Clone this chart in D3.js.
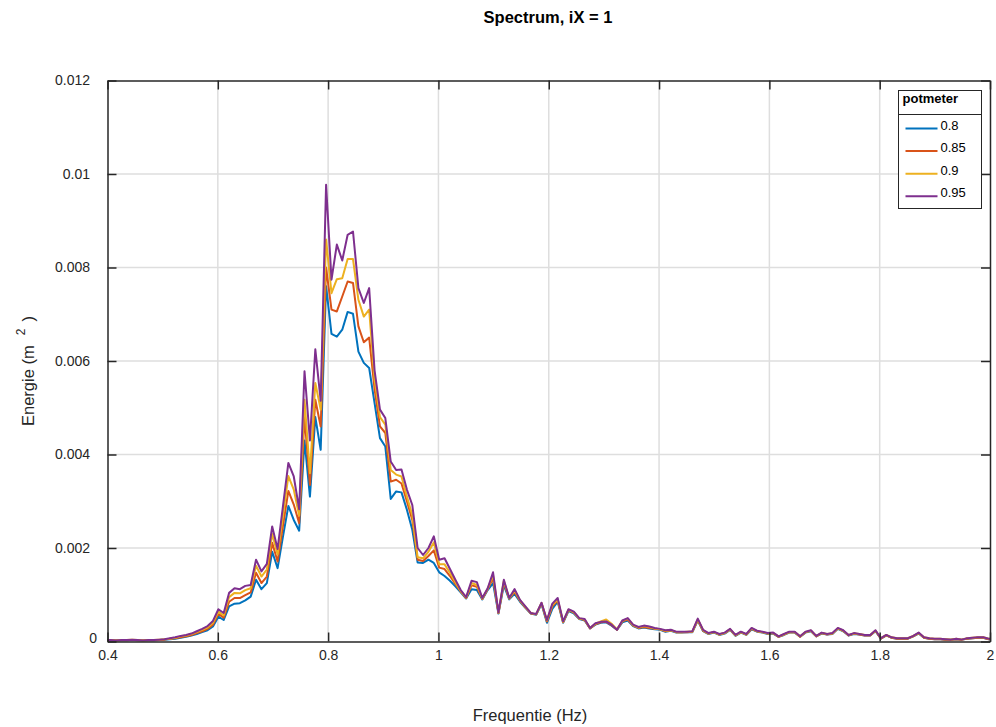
<!DOCTYPE html>
<html>
<head>
<meta charset="utf-8">
<script src="https://cdn.jsdelivr.net/npm/d3@7"></script>
<style>
    body { margin: 0; background: #ffffff; }
    svg { font-family: "Liberation Sans", Arial, Helvetica, sans-serif; }
</style>
</head>
<body>
<div id="spectrum-div"></div>
<script>
// frequency bins (Hz)
const freq = [
    0.3959, 0.4057, 0.4154, 0.4252, 0.4350, 0.4447, 0.4545, 0.4643, 0.4740, 0.4838,
    0.4935, 0.5033, 0.5131, 0.5228, 0.5326, 0.5424, 0.5521, 0.5619, 0.5717, 0.5814,
    0.5912, 0.6010, 0.6107, 0.6205, 0.6303, 0.6400, 0.6498, 0.6596, 0.6693, 0.6791,
    0.6889, 0.6986, 0.7084, 0.7182, 0.7279, 0.7377, 0.7475, 0.7572, 0.7670, 0.7768,
    0.7865, 0.7963, 0.8061, 0.8158, 0.8256, 0.8354, 0.8451, 0.8549, 0.8647, 0.8744,
    0.8842, 0.8940, 0.9037, 0.9135, 0.9233, 0.9330, 0.9428, 0.9526, 0.9623, 0.9721,
    0.9819, 0.9916, 1.0014, 1.0111, 1.0209, 1.0307, 1.0404, 1.0502, 1.0600, 1.0697,
    1.0795, 1.0893, 1.0990, 1.1088, 1.1186, 1.1283, 1.1381, 1.1479, 1.1576, 1.1674,
    1.1772, 1.1869, 1.1967, 1.2065, 1.2162, 1.2260, 1.2358, 1.2455, 1.2553, 1.2651,
    1.2748, 1.2846, 1.2944, 1.3041, 1.3139, 1.3237, 1.3334, 1.3432, 1.3530, 1.3627,
    1.3725, 1.3823, 1.3920, 1.4018, 1.4116, 1.4213, 1.4311, 1.4409, 1.4506, 1.4604,
    1.4702, 1.4799, 1.4897, 1.4995, 1.5092, 1.5190, 1.5288, 1.5385, 1.5483, 1.5581,
    1.5678, 1.5776, 1.5874, 1.5971, 1.6069, 1.6167, 1.6264, 1.6362, 1.6460, 1.6557,
    1.6655, 1.6753, 1.6850, 1.6948, 1.7046, 1.7143, 1.7241, 1.7339, 1.7436, 1.7534,
    1.7631, 1.7729, 1.7827, 1.7924, 1.8022, 1.8120, 1.8217, 1.8315, 1.8413, 1.8510,
    1.8608, 1.8706, 1.8803, 1.8901, 1.8999, 1.9096, 1.9194, 1.9292, 1.9389, 1.9487,
    1.9585, 1.9682, 1.9780, 1.9878, 1.9975, 2.0073
];

// energie (m^2) per potmeter setting
const energie080 = [
    .00002, .00002, .00002, .00002, .00002, .00003, .00002, .00002, .00002, .00002,
    .00003, .00004, .00005, .00006, .00008, .0001, .00013, .00016, .0002, .00024,
    .00032, .00053, .00046, .00075, .00081, .00082, .00088, .00096, .00132, .00112,
    .00125, .00192, .00157, .00225, .0029, .0026, .00237, .0043, .0031, .0048,
    .0041, .0076, .00658, .00652, .00667, .00705, .00701, .0062, .00596, .00585,
    .0051, .00435, .00417, .00305, .00321, .00319, .00282, .00239, .00169, .00168,
    .00175, .00168, .00148, .0014, .0013, .00118, .00105, .00092, .00112, .0011,
    .0009, .0011, .00125, .0006, .0012, .0009, .00102, .00085, .00072, .0006,
    .00057, .0008, .0004, .0007, .00085, .0004, .00065, .0006, .00048, .00045,
    .00028, .00036, .0004, .00041, .00034, .00025, .00041, .00045, .00033, .00028,
    .0003, .00028, .00026, .00025, .00021, .00023, .00019, .00019, .0002, .0002,
    .00045, .00022, .00016, .00019, .00014, .00017, .00025, .00012, .00019, .00014,
    .00026, .00021, .00019, .00016, .00017, .0001, .00014, .00019, .00019, .0001,
    .00019, .00022, .00011, .00017, .00015, .00016, .00027, .00022, .00013, .00016,
    .00015, .00013, .00013, .00022, .00006, .00013, .00008, .00006, .00006, .00006,
    .00011, .00017, .00008, .00006, .00005, .00005, .00004, .00004, .00005, .00004,
    .00006, .00007, .00008, .00008, .00005, .00005
];
const energie085 = [
    .00002, .00002, .00002, .00002, .00002, .00003, .00002, .00002, .00002, .00002,
    .00003, .00004, .00006, .00007, .00009, .00011, .00014, .00018, .00022, .00027,
    .00036, .00059, .00051, .00085, .00093, .00093, .00099, .00105, .00147, .00125,
    .00139, .00211, .00171, .00248, .00322, .00293, .00253, .00481, .00335, .00517,
    .0046, .008, .0071, .00706, .00738, .0077, .00767, .00674, .0064, .0065,
    .0054, .0046, .00446, .00342, .00346, .00338, .003, .0026, .00175, .00172,
    .00183, .00195, .00158, .00155, .0014, .00123, .00107, .00093, .0012, .00117,
    .00091, .00112, .00135, .00061, .00126, .00092, .00106, .00087, .00073, .0006,
    .00058, .00082, .00043, .00075, .00088, .00041, .00067, .00062, .00049, .00046,
    .00028, .00037, .00041, .00042, .00035, .00025, .00043, .00047, .00034, .00029,
    .00031, .00029, .00027, .00026, .00022, .00024, .0002, .0002, .0002, .00021,
    .00046, .00023, .00017, .0002, .00015, .00018, .00026, .00013, .0002, .00015,
    .00027, .00022, .0002, .00017, .00018, .0001, .00015, .0002, .0002, .0001,
    .0002, .00023, .00011, .00018, .00015, .00017, .00028, .00023, .00013, .00017,
    .00015, .00013, .00013, .00023, .00006, .00013, .00008, .00006, .00006, .00006,
    .00011, .00018, .00008, .00006, .00005, .00005, .00004, .00004, .00005, .00004,
    .00006, .00007, .00008, .00008, .00005, .00005
];
const energie090 = [
    .00003, .00003, .00002, .00003, .00003, .00004, .00003, .00002, .00003, .00003,
    .00004, .00005, .00006, .00008, .00011, .00013, .00016, .0002, .00025, .0003,
    .0004, .00064, .00056, .00095, .00104, .00103, .0011, .00114, .00162, .00139,
    .00154, .0023, .00186, .0027, .00354, .00325, .00269, .00517, .0036, .00553,
    .00496, .0086, .00745, .00775, .00777, .00818, .00818, .00731, .00695, .0071,
    .0056, .0048, .00464, .00367, .00357, .00353, .0031, .0027, .0018, .00178,
    .00192, .00212, .00165, .00165, .00147, .00127, .00108, .00094, .00125, .00121,
    .00092, .00113, .00142, .00061, .0013, .00092, .00109, .00088, .00074, .00061,
    .00058, .00082, .00045, .00078, .0009, .00042, .00068, .00063, .00049, .00047,
    .00029, .00038, .00043, .00047, .00038, .00026, .00044, .00049, .00035, .0003,
    .00033, .00031, .00028, .00026, .00023, .00024, .0002, .0002, .00021, .00021,
    .00047, .00024, .00017, .0002, .00015, .00018, .00026, .00013, .0002, .00015,
    .00028, .00022, .0002, .00017, .00018, .00011, .00015, .0002, .0002, .00011,
    .0002, .00023, .00012, .00018, .00016, .00017, .00028, .00023, .00014, .00017,
    .00016, .00014, .00014, .00023, .00007, .00014, .00009, .00007, .00007, .00007,
    .00012, .00018, .00009, .00007, .00006, .00006, .00005, .00004, .00006, .00004,
    .00007, .00008, .00009, .00009, .00006, .00006
];
const energie095 = [
    .00003, .00003, .00002, .00003, .00003, .00004, .00003, .00002, .00003, .00003,
    .00004, .00005, .00007, .00009, .00012, .00014, .00017, .00022, .00027, .00033,
    .00044, .00069, .00061, .00104, .00114, .00112, .00119, .00121, .00175, .0015,
    .00166, .00246, .00198, .0029, .00382, .00353, .00283, .00578, .0043, .00625,
    .00515, .00977, .00774, .00849, .00815, .0087, .00877, .00756, .00724, .00756,
    .0058, .00496, .00478, .00385, .00367, .00368, .00325, .00292, .002, .00185,
    .002, .00225, .00175, .00178, .00155, .00132, .0011, .00095, .0013, .00127,
    .00093, .00114, .00148, .00062, .00132, .00093, .00112, .00089, .00075, .00061,
    .00059, .00083, .00046, .00081, .00093, .00043, .00069, .00064, .0005, .00048,
    .00029, .00039, .00042, .00043, .00036, .00025, .00045, .0005, .00036, .00031,
    .00034, .00032, .00029, .00027, .00024, .00025, .00021, .00021, .00021, .00022,
    .00049, .00025, .00018, .00021, .00016, .00019, .00027, .00014, .00021, .00016,
    .00029, .00023, .00021, .00018, .00019, .00011, .00016, .00021, .00021, .00011,
    .00021, .00024, .00012, .00019, .00016, .00018, .00029, .00024, .00014, .00018,
    .00016, .00014, .00014, .00024, .00007, .00014, .00009, .00007, .00007, .00007,
    .00012, .00019, .00009, .00007, .00006, .00006, .00005, .00004, .00006, .00004,
    .00007, .00008, .00009, .00009, .00006, .00006
];

const potmeterLabels = ["0.8", "0.85", "0.9", "0.95"];
const potmeterColors = ["#0072BD", "#D95319", "#EDB120", "#7E2F8E"];
const xTickValues = [0.4, 0.6, 0.8, 1, 1.2, 1.4, 1.6, 1.8, 2];
const yTickValues = [0, 0.002, 0.004, 0.006, 0.008, 0.01, 0.012];

function renderSpectrum() {
    const series = [energie080, energie085, energie090, energie095];

    var margin = { top: 80.5, right: 6, bottom: 85.5, left: 107.5 },
        fullWidth = 996, fullHeight = 727,
        width = fullWidth - margin.left - margin.right,
        height = fullHeight - margin.top - margin.bottom;

    const root = d3.select("#spectrum-div").append("svg")
        .attr("width", fullWidth)
        .attr("height", fullHeight);

    const svg = root.append("g")
        .attr("transform", `translate(${margin.left},${margin.top})`);

    const x = d3.scaleLinear().domain([0.4, 2]).range([0, width]);
    const y = d3.scaleLinear().domain([0, 0.012]).range([height, 0]);

    // grid
    svg.append("g").selectAll("line")
        .data(xTickValues.slice(1, -1))
        .enter().append("line")
        .attr("x1", d => x(d)).attr("x2", d => x(d))
        .attr("y1", 0).attr("y2", height)
        .attr("stroke", "#dedede").attr("stroke-width", 1.5);
    svg.append("g").selectAll("line")
        .data(yTickValues.slice(1, -1))
        .enter().append("line")
        .attr("x1", 0).attr("x2", width)
        .attr("y1", d => y(d)).attr("y2", d => y(d))
        .attr("stroke", "#dedede").attr("stroke-width", 1.5);

    svg.append("defs").append("clipPath")
        .attr("id", "plot-clip")
        .append("rect")
        .attr("width", width).attr("height", height);

    const line = d3.line()
        .x((d, i) => x(freq[i]))
        .y(d => y(d));

    svg.append("g")
        .attr("clip-path", "url(#plot-clip)")
        .selectAll("path")
        .data(series)
        .enter().append("path")
        .attr("d", d => line(d))
        .attr("fill", "none")
        .attr("stroke", (d, i) => potmeterColors[i])
        .attr("stroke-width", 2)
        .attr("stroke-linejoin", "round");

    // axes, ticks pointing inwards like matlab
    const axisColor = "#262626";
    const fmt = d3.format("~g");

    svg.append("g")
        .attr("transform", `translate(0,${height})`)
        .call(d3.axisBottom(x).tickValues(xTickValues).tickFormat(fmt)
            .tickSizeInner(-9).tickSizeOuter(0).tickPadding(8.5));
    const yAxis = svg.append("g")
        .call(d3.axisLeft(y).tickValues(yTickValues).tickFormat(fmt)
            .tickSizeInner(-9).tickSizeOuter(0).tickPadding(17.5));
    svg.append("g")
        .call(d3.axisTop(x).tickValues(xTickValues).tickFormat("")
            .tickSizeInner(-9).tickSizeOuter(0));
    svg.append("g")
        .attr("transform", `translate(${width},0)`)
        .call(d3.axisRight(y).tickValues(yTickValues).tickFormat("")
            .tickSizeInner(-9).tickSizeOuter(0));

    svg.selectAll(".domain").attr("stroke", axisColor).attr("stroke-width", 1.5);
    svg.selectAll(".tick line").attr("stroke", axisColor).attr("stroke-width", 1.5);
    svg.selectAll(".tick text")
        .attr("fill", axisColor)
        .style("font-size", "14px")
        .style("font-family", "'Liberation Sans', Arial, sans-serif");
    yAxis.selectAll(".tick text").filter(d => d === 0).attr("dx", 7).attr("dy", "0.1em");

    // title and labels
    root.append("text")
        .attr("x", 548)
        .attr("y", 23)
        .attr("text-anchor", "middle")
        .style("font-size", "16.5px")
        .style("font-weight", "bold")
        .attr("fill", "#000")
        .text("Spectrum, iX = 1");

    root.append("text")
        .attr("x", 530)
        .attr("y", 721)
        .attr("text-anchor", "middle")
        .style("font-size", "16.5px")
        .attr("fill", axisColor)
        .text("Frequentie (Hz)");

    const yLabel = root.append("text")
        .attr("transform", "translate(34,426) rotate(-90)")
        .style("font-size", "16.5px")
        .attr("fill", axisColor);
    yLabel.append("tspan").text("Energie (m");
    yLabel.append("tspan").attr("dx", 10).attr("dy", -9).style("font-size", "12px").text("2");
    yLabel.append("tspan").attr("dx", 7).attr("dy", 9).text(")");

    // legend
    const legend = root.append("g")
        .attr("class", "legend")
        .attr("transform", "translate(898.5,90.5)");
    legend.append("rect")
        .attr("width", 83).attr("height", 118)
        .attr("fill", "#fff").attr("stroke", axisColor).attr("stroke-width", 1);
    legend.append("line")
        .attr("x1", 0).attr("x2", 83).attr("y1", 24).attr("y2", 24)
        .attr("stroke", axisColor).attr("stroke-width", 1);
    legend.append("text")
        .attr("x", 4).attr("y", 12)
        .style("font-size", "13px").style("font-weight", "bold")
        .attr("fill", "#000")
        .text("potmeter");

    potmeterLabels.forEach((label, i) => {
        const item = legend.append("g")
            .attr("transform", `translate(0,${38 + i * 22.6})`);
        item.append("line")
            .attr("x1", 7).attr("x2", 39)
            .attr("stroke", potmeterColors[i]).attr("stroke-width", 2);
        item.append("text")
            .attr("x", 42).attr("y", 1)
            .style("font-size", "13px")
            .attr("fill", "#000")
            .text(label);
    });
}

renderSpectrum();
</script>
</body>
</html>
